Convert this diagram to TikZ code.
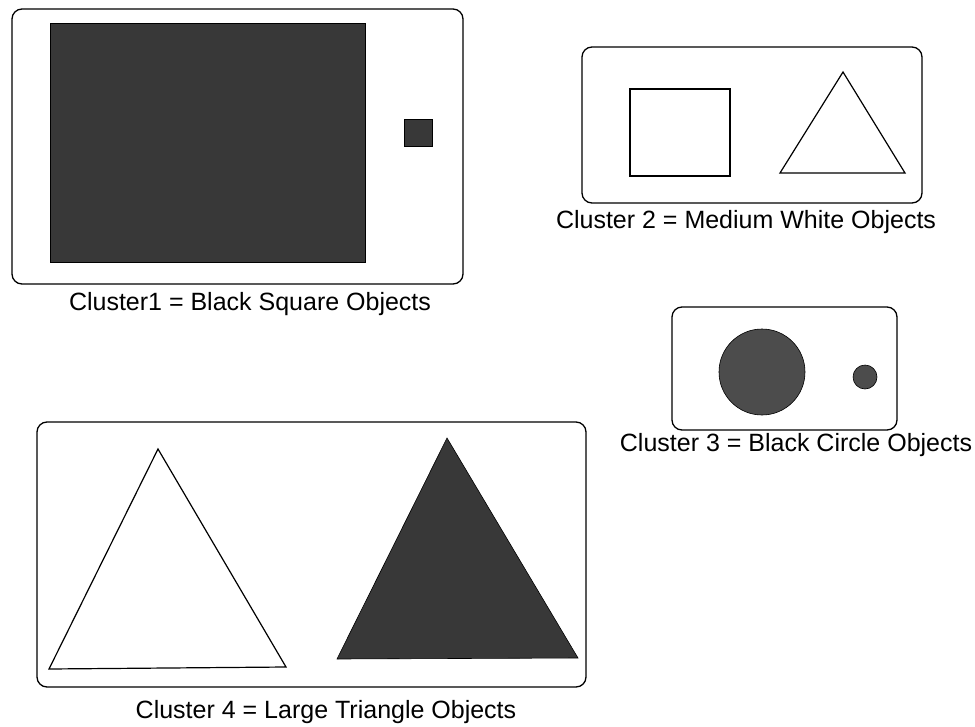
\documentclass[tikz,border=0pt]{standalone}
\usepackage{fontspec}
\setmainfont{Liberation Sans}
\definecolor{darkfill}{gray}{0.22}
\definecolor{circfill}{gray}{0.30}
\begin{document}
\begin{tikzpicture}[x=1pt,y=-1pt,
  clusterbox/.style={draw=black, line width=1.3pt, rounded corners=10pt},
  outlineshape/.style={draw=black, line width=1.2pt, line join=miter},
  solidshape/.style={fill=darkfill, draw=black, line width=0.6pt},
  caption/.style={font=\fontsize{25}{29}\selectfont, inner sep=0pt, anchor=base}]
\useasboundingbox[fill=white] (0,0) rectangle (975,726);
% Cluster 1
\draw[clusterbox] (12,9) rectangle (463,284);
\fill[solidshape] (50,23) rectangle (365,262);
\fill[solidshape] (404,119) rectangle (432,146);
\node[caption] (c1) at (250,310) {Cluster1 = Black Square Objects};
% Cluster 2
\draw[clusterbox] (582,47) rectangle (922,203);
\draw[outlineshape] (630,89) rectangle (730,176);
\draw[outlineshape] (843,72) -- (780,173) -- (905,173) -- cycle;
\node[caption] (c2) at (746,228) {Cluster 2 = Medium White Objects};
% Cluster 3
\draw[clusterbox] (672,307) rectangle (897,430);
\fill[fill=circfill, draw=black, line width=0.6pt] (762,372) circle[radius=43];
\fill[fill=circfill, draw=black, line width=0.6pt] (865,377) circle[radius=12];
\node[caption] (c3) at (796,451) {Cluster 3 = Black Circle Objects};
% Cluster 4
\draw[clusterbox] (37,422) rectangle (586,687);
\draw[outlineshape] (158,449) -- (49,669) -- (286,667) -- cycle;
\fill[solidshape] (447,438) -- (337,659) -- (578,658) -- cycle;
\node[caption] (c4) at (326,718) {Cluster 4 = Large Triangle Objects};
\end{tikzpicture}
\end{document}
